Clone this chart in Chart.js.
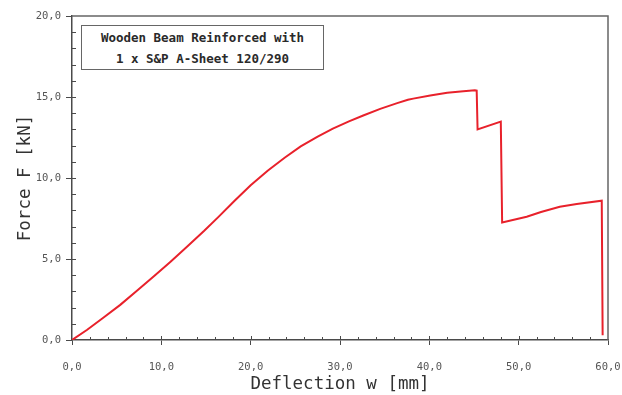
<!DOCTYPE html>
<html>
<head>
<meta charset="utf-8">
<script src="https://cdn.jsdelivr.net/npm/chart.js@4/dist/chart.umd.min.js"></script>
<style>
  html, body { margin: 0; padding: 0; background: #fff; }
  #wrap { position: relative; width: 622px; height: 395px; }
  #note {
    position: absolute; left: 81px; top: 25px; width: 243px; height: 45px;
    border: 1px solid #666; box-sizing: border-box; background: #fff;
    font: bold 12.5px "DejaVu Sans Mono", monospace; color: #2a2a2a;
    text-align: center; line-height: 21px; padding-top: 1px;
  }
</style>
</head>
<body>
<div id="wrap">
  <canvas id="chart" width="622" height="395"></canvas>
  <div id="note">Wooden Beam Reinforced with<br>1 x S&amp;P A-Sheet 120/290</div>
</div>
<script>
// deflection [mm] and force [kN]
const deflection = [0, 1.7, 3.5, 5.4, 7.3, 9.2, 11.0, 12.9, 14.8, 16.4, 18.2, 20.0, 21.9, 23.8, 25.6, 27.5, 29.2, 31.0, 32.6, 34.5, 36.4, 37.6, 38.2, 40.1, 42.0, 43.8, 45.1, 45.3, 45.4, 48.0, 48.15, 50.9, 52.5, 54.6, 56.5, 59.3, 59.4];
const force = [0, 0.63, 1.37, 2.17, 3.05, 3.95, 4.82, 5.77, 6.74, 7.6, 8.6, 9.55, 10.45, 11.25, 11.95, 12.55, 13.05, 13.5, 13.86, 14.27, 14.62, 14.83, 14.9, 15.09, 15.26, 15.36, 15.42, 15.4, 13.0, 13.48, 7.25, 7.61, 7.9, 8.23, 8.4, 8.6, 0.3];

const xTicks = [0, 10, 20, 30, 40, 50, 60];
const yTicks = [0, 5, 10, 15, 20];

const points = deflection.map((d, i) => ({ x: d, y: force[i] }));
const fmt = v => v.toFixed(1).replace('.', ',');
const axisColor = '#4a4a4a';

// frame on top/right and the small minor ticks
const frameTicks = {
  id: 'frameTicks',
  afterDraw(chart) {
    const { ctx, chartArea: a, scales } = chart;
    ctx.save();
    ctx.strokeStyle = '#666';
    ctx.lineWidth = 1.5;
    ctx.beginPath();
    ctx.moveTo(a.left, a.top);
    ctx.lineTo(a.right, a.top);
    ctx.lineTo(a.right, a.bottom);
    ctx.stroke();

    ctx.strokeStyle = axisColor;
    ctx.lineWidth = 1;
    ctx.beginPath();
    for (let v = 2; v < 60; v += 2) {
      const px = Math.round(scales.x.getPixelForValue(v)) + 0.5;
      const len = v % 10 === 0 ? 4 : 3;
      ctx.moveTo(px, a.bottom);
      ctx.lineTo(px, a.bottom - len);
    }
    for (let v = 1; v < 20; v += 1) {
      const py = Math.round(scales.y.getPixelForValue(v)) + 0.5;
      ctx.moveTo(a.left, py);
      ctx.lineTo(a.left + 4, py);
    }
    ctx.stroke();
    ctx.restore();
  }
};

const config = {
  type: 'scatter',
  data: {
    datasets: [{
      data: points,
      showLine: true,
      borderColor: '#e8212b',
      borderWidth: 2,
      pointRadius: 0,
      tension: 0,
      fill: false
    }]
  },
  options: {
    responsive: false,
    animation: false,
    layout: { padding: { left: 0, top: 16, right: 14, bottom: 0 } },
    plugins: { legend: { display: false }, tooltip: { enabled: false } },
    scales: {
      x: {
        type: 'linear',
        min: 0, max: 60,
        afterFit(scale) {
          scale.height = 55;
          scale.paddingLeft = 0;
          scale.paddingRight = 0;
        },
        afterBuildTicks(scale) { scale.ticks = xTicks.map(v => ({ value: v })); },
        grid: { drawOnChartArea: false, tickLength: 5, color: axisColor, tickWidth: 1 },
        border: { color: axisColor, width: 1.5 },
        ticks: {
          padding: 16,
          maxRotation: 0,
          color: '#555',
          font: { family: 'DejaVu Sans Mono', size: 10.5 },
          callback: v => fmt(v)
        },
        title: {
          display: true,
          text: 'Deflection w [mm]',
          color: '#333',
          font: { family: 'DejaVu Sans Mono', size: 17.5 },
          padding: { top: 0, bottom: 0 }
        }
      },
      y: {
        type: 'linear',
        min: 0, max: 20,
        afterFit(scale) {
          scale.width = 72;
          scale.paddingTop = 0;
          scale.paddingBottom = 0;
        },
        afterBuildTicks(scale) { scale.ticks = yTicks.map(v => ({ value: v })); },
        grid: { drawOnChartArea: false, tickLength: 6, color: axisColor, tickWidth: 1 },
        border: { color: axisColor, width: 1.5 },
        ticks: {
          padding: 5,
          color: '#555',
          font: { family: 'DejaVu Sans Mono', size: 10.5 },
          callback: v => fmt(v)
        },
        title: {
          display: true,
          text: 'Force F [kN]',
          color: '#333',
          font: { family: 'DejaVu Sans Mono', size: 17.5 },
          padding: { top: 15, bottom: 0 }
        }
      }
    }
  },
  plugins: [frameTicks]
};

new Chart(document.getElementById('chart'), config);
</script>
</body>
</html>
